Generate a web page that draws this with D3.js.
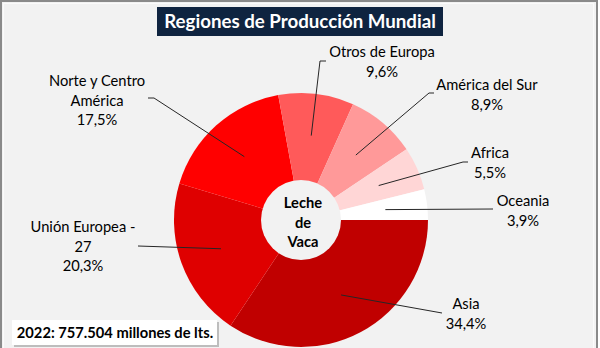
<!DOCTYPE html>
<html><head><meta charset="utf-8">
<script src="https://cdn.jsdelivr.net/npm/d3@7"></script>
<style>html,body{margin:0;padding:0;background:#fff;}svg{display:block;}</style>
</head><body>
<svg id="chart" width="600" height="348"></svg>
<script>
// Data
const regions = ["Asia", "Unión Europea - 27", "Norte y Centro América", "Otros de Europa", "América del Sur", "Africa", "Oceania"];
const shares = [34.4, 20.3, 17.5, 9.6, 8.9, 5.5, 3.9];
const labelLines = [["Asia"], ["Unión Europea -", "27"], ["Norte y Centro", "América"], ["Otros de Europa"], ["América del Sur"], ["Africa"], ["Oceania"]];
const percentLabels = ["34,4%", "20,3%", "17,5%", "9,6%", "8,9%", "5,5%", "3,9%"];
const colors = ["#C00000", "#DF0000", "#FF0000", "#FF5A5A", "#FF9999", "#FFD6D6", "#FFFFFF"];
const title = "Regiones de Producción Mundial";
const centerText = ["Leche", "de", "Vaca"];
const footnote = "2022: 757.504 millones de lts.";

// Layout (label anchors and leader elbows)
const labelLayout = [
  {tx: 466, ty: 309, elbow: [442, 313], end: [442, 313]},
  {tx: 83, ty: 232, elbow: [138, 246], end: [138, 246]},
  {tx: 97, ty: 86, elbow: [154, 98], end: [148, 98]},
  {tx: 382, ty: 57, elbow: [320, 61], end: [326, 61]},
  {tx: 487, ty: 90, elbow: [429, 93], end: [434, 93]},
  {tx: 490, ty: 158, elbow: [463, 162], end: [468, 162]},
  {tx: 523, ty: 206, elbow: [493, 209], end: [493, 209]}
];

const svg = d3.select("#chart");
const W = 600, H = 348;
const font = "Lato, 'Open Sans', sans-serif";

svg.append("rect").attr("x", 0).attr("y", 0).attr("width", W).attr("height", H).attr("fill", "#fff");
svg.append("rect").attr("x", 1).attr("y", 1).attr("width", 596).attr("height", 360)
  .attr("fill", "#F2F2F2").attr("stroke", "#8a8a8a").attr("stroke-width", 2);
svg.append("rect").attr("x", 3.5).attr("y", 3.5).attr("width", 590).attr("height", 360)
  .attr("fill", "none").attr("stroke", "#ffffff").attr("stroke-width", 1).attr("opacity", 0.7);

const cx = 301, cy = 220, R = 127, r0 = 40;
const pie = d3.pie().sort(null).value(d => d).startAngle(Math.PI / 2).endAngle(Math.PI / 2 + 2 * Math.PI);
const arcs = pie(shares);
const arc = d3.arc().innerRadius(0).outerRadius(R);
const labelArc = d3.arc().innerRadius(85).outerRadius(85);

const g = svg.append("g").attr("transform", `translate(${cx},${cy})`);
g.selectAll("path.slice").data(arcs).enter().append("path")
  .attr("class", "slice").attr("d", arc).attr("fill", (d, i) => colors[i]);

g.append("circle").attr("r", r0).attr("fill", "#F2F2F2");

// leader lines
arcs.forEach((d, i) => {
  const [sx, sy] = labelArc.centroid(d);
  const L = labelLayout[i];
  svg.append("polyline")
    .attr("points", [[sx + cx, sy + cy], L.elbow, L.end].map(p => p.join(",")).join(" "))
    .attr("fill", "none").attr("stroke", "#262626").attr("stroke-width", 1);
});

// labels
arcs.forEach((d, i) => {
  const L = labelLayout[i];
  const lines = labelLines[i].concat([percentLabels[i]]);
  const t = svg.append("text").attr("x", L.tx).attr("y", L.ty)
    .attr("text-anchor", "middle").attr("font-family", font).attr("font-size", 14.7).attr("fill", "#000");
  lines.forEach((s, j) => {
    t.append("tspan").attr("x", L.tx).attr("dy", j === 0 ? 0 : 19.5).text(s);
  });
});

// center text
const ct = svg.append("text").attr("x", cx + 2).attr("y", cy - 12)
  .attr("text-anchor", "middle").attr("font-family", font).attr("font-size", 14.7)
  .attr("font-weight", "bold").attr("fill", "#000");
centerText.forEach((s, j) => ct.append("tspan").attr("x", cx + 2).attr("dy", j === 0 ? 0 : 19.5).text(s));

// title
svg.append("rect").attr("x", 157).attr("y", 7).attr("width", 286).attr("height", 29).attr("fill", "#0F2440");
svg.append("text").attr("x", 300).attr("y", 28).attr("text-anchor", "middle")
  .attr("font-family", font).attr("font-size", 18.7).attr("font-weight", "bold").attr("fill", "#fff").text(title);

// footnote box
svg.append("rect").attr("x", 14).attr("y", 322).attr("width", 205).attr("height", 25).attr("fill", "#9a9a9a").attr("opacity", 0.6);
svg.append("rect").attr("x", 12).attr("y", 320).attr("width", 205).attr("height", 25).attr("fill", "#fff");
svg.append("text").attr("x", 115).attr("y", 338).attr("text-anchor", "middle")
  .attr("font-family", font).attr("font-size", 14.7).attr("font-weight", "bold").attr("fill", "#000").text(footnote);
</script>
</body></html>
